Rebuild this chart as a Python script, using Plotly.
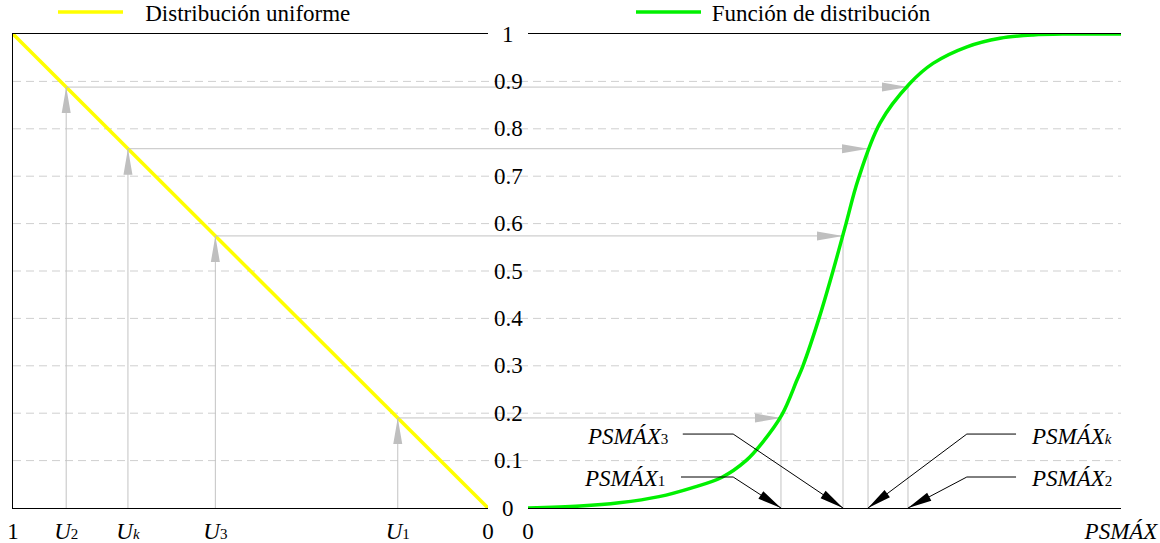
import math
import plotly.graph_objects as go

# ------------------------------------------------------------------ data
uniform_u = [1.0, 0.0]          # uniform distribution (left panel, reversed axis)
uniform_F = [1.0, 0.0]

psmax_x = [0, 8.77, 15.35, 22.09, 27.49, 32.72, 36.76, 39.46, 42.83, 45.36, 46.37,
           49.07, 51.43, 53.63, 55.65, 59.36, 64.42, 68.30, 74.03, 79.60, 85.16, 90.89, 100]
cdf_F = [0, 0.004, 0.011, 0.024, 0.042, 0.065, 0.10, 0.137, 0.197, 0.27, 0.30,
         0.40, 0.50, 0.60, 0.692, 0.812, 0.896, 0.938, 0.973, 0.991, 0.998, 1.0, 1.0]

sample_ids = ["1", "2", "3", "k"]
sample_u = [0.19, 0.888, 0.574, 0.758]
sample_psmax = [42.66, 64.08, 53.12, 57.34]

y_tickvals = [0, 0.1, 0.2, 0.3, 0.4, 0.5, 0.6, 0.7, 0.8, 0.9, 1]
y_ticktext = ["0", "0.1", "0.2", "0.3", "0.4", "0.5", "0.6", "0.7", "0.8", "0.9", "1"]

SUB = '<span style="font-size:15px">{}</span>'
left_tickvals = [1, 0.888, 0.758, 0.574, 0.19, 0]
left_ticktext = ["1", "<i>U</i>" + SUB.format("2"), "<i>U</i>" + SUB.format("<i>k</i>"),
                 "<i>U</i>" + SUB.format("3"), "<i>U</i>" + SUB.format("1"), "0"]
right_tickvals = [0, 100]
right_ticktext = ["0", "<i>PSMÁX</i>"]

# ------------------------------------------------------------------ layout / style
W, H = 1160, 543
ML, MR, MT, MB = 13, 39, 34, 35
PW, PH = W - ML - MR, H - MT - MB
DOM_L = [0.0, 475 / PW]
DOM_R = [515 / PW, 1.0]
X2_RANGE = [0, 100]
FONT = "Liberation Serif"
FS = 23
GRAY = "#c3c3c3"
GRAY_HEAD = "#bfbfbf"
GRID = "#cfcfcf"
YELLOW = "#ffff00"
GREEN = "#00f000"

# pixels per data unit
SX_L = -(DOM_L[1] - DOM_L[0]) * PW / 1.0        # left axis reversed
SX_R = (DOM_R[1] - DOM_R[0]) * PW / (X2_RANGE[1] - X2_RANGE[0])
SY = PH / 1.0

# callout placement (x2 / y units)
CALLOUT = {
    "1": dict(tx=23.5, ty=0.063, anchor="right", x0=25.8, xe=34.6, ly=0.0654),
    "3": dict(tx=24.0, ty=0.150, anchor="right", x0=26.1, xe=34.6, ly=0.156),
    "k": dict(tx=84.5, ty=0.150, anchor="left", x0=82.3, xe=74.0, ly=0.156),
    "2": dict(tx=84.5, ty=0.063, anchor="left", x0=82.3, xe=74.0, ly=0.0654),
}


def arrow_head(tx, ty, dxp, dyp, sx, sy, length, half_w):
    """Triangle polygon (data coords) with tip at (tx, ty), direction given in pixels."""
    n = math.hypot(dxp, dyp)
    ux, uy = dxp / n, dyp / n
    bx, by = -ux * length, -uy * length
    px, py = -uy * half_w, ux * half_w
    pts = [(0, 0), (bx + px, by + py), (bx - px, by - py), (0, 0)]
    return [tx + a / sx for a, b in pts], [ty + b / sy for a, b in pts]


fig = go.Figure()

# uniform distribution
fig.add_trace(go.Scatter(x=uniform_u, y=uniform_F, mode="lines", xaxis="x", yaxis="y",
                         line=dict(color=YELLOW, width=3.5),
                         name="\u2002\u2005Distribución uniforme",
                         legend="legend", showlegend=True))

gx_l, gy_l, gx_r, gy_r = [], [], [], []
hx_l, hy_l, hx_r, hy_r = [], [], [], []
shapes = []
for u, p in zip(sample_u, sample_psmax):
    gx_l += [u, u, None, u, 0, None]
    gy_l += [0, u, None, u, u, None]
    ax_, ay_ = arrow_head(u, u, 0, 1, SX_L, SY, 26, 4.5)
    hx_l += ax_ + [None]
    hy_l += ay_ + [None]
    shapes.append(dict(type="line", xref="paper", yref="y", x0=DOM_L[1], x1=DOM_R[0],
                       y0=u, y1=u, line=dict(color=GRAY, width=1), layer="below"))
    gx_r += [0, p, None, p, p, None]
    gy_r += [u, u, None, u, 0, None]
    ax_, ay_ = arrow_head(p, u, 1, 0, SX_R, SY, 26, 4.5)
    hx_r += ax_ + [None]
    hy_r += ay_ + [None]

fig.add_trace(go.Scatter(x=gx_l, y=gy_l, mode="lines", xaxis="x", yaxis="y",
                         line=dict(color=GRAY, width=1), showlegend=False, hoverinfo="skip"))
fig.add_trace(go.Scatter(x=hx_l, y=hy_l, mode="lines", xaxis="x", yaxis="y", fill="toself",
                         fillcolor=GRAY_HEAD, line=dict(width=0, color=GRAY_HEAD),
                         showlegend=False, hoverinfo="skip"))
fig.add_trace(go.Scatter(x=gx_r, y=gy_r, mode="lines", xaxis="x2", yaxis="y",
                         line=dict(color=GRAY, width=1), showlegend=False, hoverinfo="skip"))
fig.add_trace(go.Scatter(x=hx_r, y=hy_r, mode="lines", xaxis="x2", yaxis="y", fill="toself",
                         fillcolor=GRAY_HEAD, line=dict(width=0, color=GRAY_HEAD),
                         showlegend=False, hoverinfo="skip"))

# distribution function
fig.add_trace(go.Scatter(x=psmax_x, y=cdf_F, mode="lines", xaxis="x2", yaxis="y",
                         line=dict(color=GREEN, width=3.5, shape="spline", smoothing=1.0),
                         name="\u2005Función de distribución",
                         legend="legend2", showlegend=True))

# black callouts
bx, by, kx, ky = [], [], [], []
annotations = []
for sid, p in zip(sample_ids, sample_psmax):
    c = CALLOUT[sid]
    bx += [c["x0"], c["xe"], p, None]
    by += [c["ly"], c["ly"], 0, None]
    ax_, ay_ = arrow_head(p, 0, (p - c["xe"]) * SX_R, (0 - c["ly"]) * SY, SX_R, SY, 24, 4.5)
    kx += ax_ + [None]
    ky += ay_ + [None]
    sub = "<i>k</i>" if sid == "k" else sid
    annotations.append(dict(x=c["tx"], y=c["ty"], xref="x2", yref="y", showarrow=False,
                            text="<i>PSMÁX</i>" + SUB.format(sub), xanchor=c["anchor"],
                            yanchor="middle", font=dict(family=FONT, size=FS, color="black")))

fig.add_trace(go.Scatter(x=bx, y=by, mode="lines", xaxis="x2", yaxis="y",
                         line=dict(color="black", width=1), showlegend=False, hoverinfo="skip"))
fig.add_trace(go.Scatter(x=kx, y=ky, mode="lines", xaxis="x2", yaxis="y", fill="toself",
                         fillcolor="black", line=dict(width=0, color="black"),
                         showlegend=False, hoverinfo="skip"))

# dashed grid across both panels
for v in y_tickvals[1:-1]:
    shapes.append(dict(type="line", xref="paper", yref="y", x0=0, x1=1, y0=v, y1=v,
                       line=dict(color=GRID, width=1, dash="8px,5px"), layer="below"))

# y tick labels centred in the gap
gap_mid = (DOM_L[1] + DOM_R[0]) / 2
for v, t in zip(y_tickvals, y_ticktext):
    annotations.append(dict(x=gap_mid, y=v, xref="paper", yref="y", text=t, showarrow=False,
                            xanchor="center", yanchor="middle",
                            font=dict(family=FONT, size=FS, color="black")))

axis_common = dict(showgrid=False, zeroline=False, showline=True, linecolor="black",
                   linewidth=1, ticks="", automargin=False, ticklabelstandoff=2,
                   tickfont=dict(family=FONT, size=FS, color="black"))

fig.update_layout(
    width=W, height=H,
    margin=dict(l=ML, r=MR, t=MT, b=MB, autoexpand=False),
    paper_bgcolor="white", plot_bgcolor="white",
    font=dict(family=FONT, size=FS, color="black"),
    xaxis=dict(domain=DOM_L, range=[1, 0], mirror=True, tickvals=left_tickvals,
               ticktext=left_ticktext, anchor="y", **axis_common),
    xaxis2=dict(domain=DOM_R, range=X2_RANGE, mirror=True, tickvals=right_tickvals,
                ticktext=right_ticktext, anchor="y2", **axis_common),
    yaxis=dict(domain=[0, 1], range=[0, 1], anchor="x", showticklabels=False, mirror=False,
               **axis_common),
    yaxis2=dict(domain=[0, 1], range=[0, 1], anchor="x2", side="right", matches="y",
                showticklabels=False, mirror=False, **axis_common),
    legend=dict(x=(60 - ML - 7) / PW, y=1 + (MT - 12) / PH, xanchor="left", yanchor="middle",
                orientation="h", itemwidth=65, bgcolor="rgba(0,0,0,0)",
                font=dict(family=FONT, size=FS, color="black")),
    legend2=dict(x=(634 - ML - 3) / PW, y=1 + (MT - 12) / PH, xanchor="left", yanchor="middle",
                 orientation="h", itemwidth=65, bgcolor="rgba(0,0,0,0)",
                 font=dict(family=FONT, size=FS, color="black")),
    shapes=shapes,
    annotations=annotations,
    hovermode=False,
)

fig.write_html("out.html")
